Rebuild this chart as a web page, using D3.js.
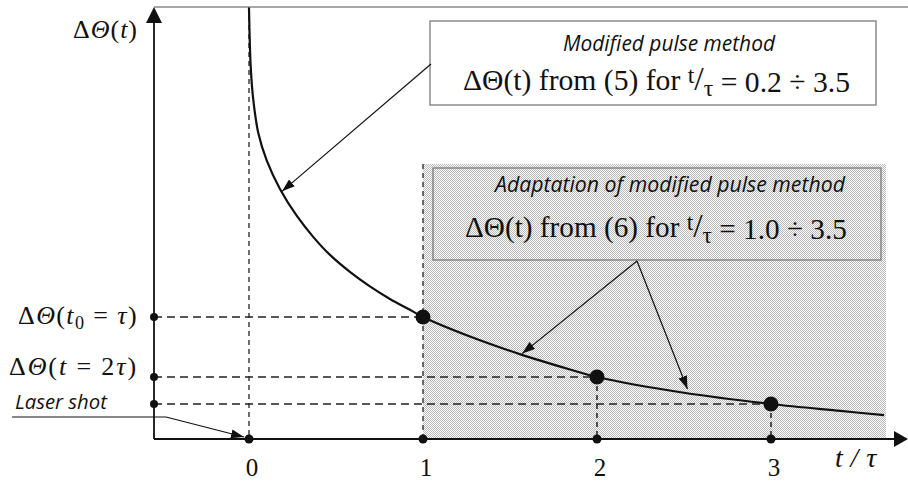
<!DOCTYPE html>
<html>
<head>
<meta charset="utf-8">
<script src="https://cdn.jsdelivr.net/npm/d3@7"></script>
<style>
  html, body { margin: 0; padding: 0; background: #fff; }
  svg { display: block; }
</style>
</head>
<body>
<script>
// ---- data (t/τ and relative ΔΘ, normalised so ΔΘ(τ) = 1) ----
const tValues     = [0, 0.0098, 0.0247, 0.0534, 0.1017, 0.178, 0.274, 0.370, 0.4655, 0.58, 0.695, 0.81, 0.925, 1.0, 1.27, 1.56, 1.845, 2.0, 2.5, 3.0, 3.4, 3.65];
const thetaValues = [3.533, 3.052, 2.779, 2.508, 2.283, 2.049, 1.830, 1.655, 1.509, 1.370, 1.251, 1.148, 1.059, 1.0, 0.840, 0.694, 0.570, 0.508, 0.379, 0.287, 0.230, 0.195];
const markedT     = [1, 2, 3];
const markedTheta = [1.00, 0.508, 0.287];
const xTickValues = [0, 1, 2, 3];
const xTickLabels = ["0", "1", "2", "3"];
const shadeT      = [1.0, 3.66];
const shadeTop    = 2.254;
const xDomain     = [-0.546, 3.776];
const yDomain     = [0, 3.541];

const W = 908, H = 481;
const svg = d3.select("body").append("svg").attr("width", W).attr("height", H);

const x = d3.scaleLinear().domain(xDomain).range([154, 906]);
const y = d3.scaleLinear().domain(yDomain).range([439, 7]);

const defs = svg.append("defs");
const pat = defs.append("pattern").attr("id", "dots")
  .attr("patternUnits", "userSpaceOnUse").attr("width", 2).attr("height", 2);
pat.append("rect").attr("width", 2).attr("height", 2).attr("fill", "#fcfcfc");
pat.append("rect").attr("x", 0).attr("y", 0).attr("width", 1).attr("height", 1).attr("fill", "#bababa");
pat.append("rect").attr("x", 1).attr("y", 1).attr("width", 1).attr("height", 1).attr("fill", "#bababa");

function marker(id, len, wid) {
  defs.append("marker").attr("id", id)
    .attr("markerUnits", "userSpaceOnUse")
    .attr("markerWidth", len).attr("markerHeight", wid)
    .attr("refX", len).attr("refY", wid / 2).attr("orient", "auto")
    .append("path").attr("d", `M0,0 L${len},${wid / 2} L0,${wid} Z`).attr("fill", "#111");
}
marker("arr", 13, 9);

// ---- shaded region ----
svg.append("rect")
  .attr("x", x(shadeT[0])).attr("y", y(shadeTop))
  .attr("width", x(shadeT[1]) - x(shadeT[0]))
  .attr("height", y(0) - y(shadeTop))
  .attr("fill", "url(#dots)").attr("shape-rendering", "crispEdges");

// top border line
svg.append("line").attr("x1", 154).attr("x2", W).attr("y1", 7).attr("y2", 7)
  .attr("stroke", "#8a8a8a").attr("stroke-width", 1.5);

// ---- dashed guide lines ----
const g = svg.append("g").attr("stroke", "#222").attr("fill", "none");
g.append("line").attr("x1", x(0)).attr("x2", x(0)).attr("y1", y(yDomain[1])).attr("y2", y(0))
  .attr("stroke-width", 1.3).attr("stroke-dasharray", "5,4");
g.append("line").attr("x1", x(1)).attr("x2", x(1)).attr("y1", y(shadeTop)).attr("y2", y(0))
  .attr("stroke-width", 1.3).attr("stroke-dasharray", "5,4");
markedT.forEach((t, i) => {
  g.append("line").attr("x1", x(xDomain[0])).attr("x2", x(t))
    .attr("y1", y(markedTheta[i])).attr("y2", y(markedTheta[i]))
    .attr("stroke-width", 1.5).attr("stroke-dasharray", "8,5");
  if (i > 0) {
    g.append("line").attr("x1", x(t)).attr("x2", x(t))
      .attr("y1", y(markedTheta[i])).attr("y2", y(0))
      .attr("stroke-width", 1.5).attr("stroke-dasharray", "5,4");
  }
});

// ---- curve ----
const pts = tValues.map((t, i) => ({ t, v: thetaValues[i] }));
svg.append("path").datum(pts)
  .attr("d", d3.line().x(d => x(d.t)).y(d => y(d.v)).curve(d3.curveCatmullRom.alpha(0.5)))
  .attr("fill", "none").attr("stroke", "#111").attr("stroke-width", 2.2);

// ---- axes ----
const ax = svg.append("g").attr("stroke", "#111").attr("stroke-width", 1.8);
ax.append("line").attr("x1", x(xDomain[0])).attr("x2", x(xDomain[0])).attr("y1", 22).attr("y2", y(0));
ax.append("line").attr("x1", x(xDomain[0])).attr("x2", 895).attr("y1", y(0)).attr("y2", y(0));
svg.append("path").attr("d", `M${x(xDomain[0])},7 L${x(xDomain[0]) + 8},23 L${x(xDomain[0]) - 8},23 Z`).attr("fill", "#111");
svg.append("path").attr("d", `M908,${y(0)} L894,${y(0) - 8} L894,${y(0) + 8} Z`).attr("fill", "#111");

// ---- dots ----
svg.selectAll("circle.xd").data(xTickValues).join("circle").attr("class", "xd")
  .attr("cx", d => x(d)).attr("cy", y(0)).attr("r", 4.5).attr("fill", "#111");
svg.selectAll("circle.yd").data(markedTheta).join("circle").attr("class", "yd")
  .attr("cx", x(xDomain[0])).attr("cy", d => y(d)).attr("r", 4).attr("fill", "#111");
svg.selectAll("circle.big").data(markedT).join("circle").attr("class", "big")
  .attr("cx", d => x(d)).attr("cy", (d, i) => y(markedTheta[i])).attr("r", 7.5).attr("fill", "#111");

// ---- text helpers ----
const tserif = "'Liberation Serif', 'DejaVu Serif', serif";
const sans = "'Open Sans', 'Noto Sans', sans-serif";
function fit(t, target) {
  const fs = parseFloat(t.attr("font-size"));
  const len = t.node().getComputedTextLength();
  if (len > 0) t.attr("font-size", (fs * target / len).toFixed(2));
  return t;
}
function fitSpacing(t, target) {
  const len = t.node().getComputedTextLength();
  const n = t.text().length;
  if (len > 0 && n > 1) t.attr("letter-spacing", ((target - len) / n).toFixed(2));
  return t;
}

// x tick labels
svg.selectAll("text.xt").data(xTickValues).join("text").attr("class", "xt")
  .attr("x", d => x(d) + 3).attr("y", 476).attr("text-anchor", "middle")
  .attr("font-family", tserif).attr("font-size", 25).attr("fill", "#111")
  .text((d, i) => xTickLabels[i]);

// x axis title t/τ
fitSpacing(svg.append("text").attr("x", 835).attr("y", 467)
  .attr("font-family", tserif).attr("font-size", 28).attr("font-style", "italic")
  .attr("fill", "#111").text("t/τ"), 49);

// ---- y labels ----
function mathLabel(xr, yb, parts, target) {
  const t = svg.append("text").attr("x", xr).attr("y", yb).attr("text-anchor", "end")
    .attr("font-family", tserif).attr("font-size", 26).attr("fill", "#111");
  parts.forEach(p => {
    const s = t.append("tspan").text(p.s);
    if (p.i) s.attr("font-style", "italic");
    if (p.sub) s.attr("font-size", "0.7em").attr("dy", "0.25em");
    if (p.up) s.attr("dy", "-0.175em");
  });
  return fitSpacing(t, target);
}
mathLabel(138, 38, [{ s: "Δ" }, { s: "Θ", i: 1 }, { s: "(" }, { s: "t", i: 1 }, { s: ")" }], 65);
mathLabel(138, 324, [{ s: "Δ" }, { s: "Θ", i: 1 }, { s: "(" }, { s: "t", i: 1 }, { s: "0", sub: 1 }, { s: " = ", up: 1 }, { s: "τ", i: 1 }, { s: ")" }], 120);
mathLabel(138, 375, [{ s: "Δ" }, { s: "Θ", i: 1 }, { s: "(" }, { s: "t", i: 1 }, { s: " = " }, { s: "2" }, { s: "τ", i: 1 }, { s: ")" }], 129);

// Laser shot
fit(svg.append("text").attr("x", 15).attr("y", 409).attr("font-family", sans)
  .attr("font-size", 16).attr("font-style", "italic").attr("fill", "#111").text("Laser shot"), 92);
svg.append("line").attr("x1", 12).attr("x2", 166).attr("y1", 417).attr("y2", 417)
  .attr("stroke", "#111").attr("stroke-width", 1.2);
svg.append("line").attr("x1", 166).attr("y1", 417).attr("x2", x(0) - 5).attr("y2", y(0) - 2)
  .attr("stroke", "#111").attr("stroke-width", 1.2).attr("marker-end", "url(#arr)");

// ---- annotation boxes ----
svg.append("rect").attr("x", 430).attr("y", 21).attr("width", 446).attr("height", 84)
  .attr("fill", "#fff").attr("stroke", "#7a7a7a").attr("stroke-width", 1.3);
svg.append("rect").attr("x", 433).attr("y", 168).attr("width", 448).attr("height", 92)
  .attr("fill", "none").attr("stroke", "#7a7a7a").attr("stroke-width", 1.3);

fit(svg.append("text").attr("x", 563).attr("y", 51)
  .attr("font-family", sans).attr("font-size", 18).attr("font-style", "italic").attr("fill", "#111")
  .text("Modified pulse method"), 212);
fit(svg.append("text").attr("x", 495).attr("y", 192)
  .attr("font-family", sans).attr("font-size", 18).attr("font-style", "italic").attr("fill", "#111")
  .text("Adaptation of modified pulse method"), 350);

function rangeText(x0, yb, eq, r, target) {
  const t = svg.append("text").attr("x", x0).attr("y", yb)
    .attr("font-family", tserif).attr("font-size", 24).attr("fill", "#111");
  t.append("tspan").text(`ΔΘ(t) from (${eq}) for `);
  t.append("tspan").attr("dy", "-0.3em").attr("font-size", "0.8em").text("t");
  t.append("tspan").attr("dy", "0.22em").attr("font-size", "1.15em").text("/");
  t.append("tspan").attr("dy", "0.25em").attr("font-size", "0.8em").text("τ");
  t.append("tspan").attr("dy", "-0.15em").text(` = ${r}`);
  return fit(t, target);
}
rangeText(463, 90, "5", "0.2 ÷ 3.5", 387);
rangeText(465, 237, "6", "1.0 ÷ 3.5", 382);

// ---- arrows ----
const arrows = [
  { x1: 431, y1: 64, t: 0.19, v: 2.03 },
  { x1: 637, y1: 261, t: 1.57, v: 0.70 },
  { x1: 637, y1: 261, t: 2.52, v: 0.41 }
];
svg.selectAll("line.arr").data(arrows).join("line").attr("class", "arr")
  .attr("x1", d => d.x1).attr("y1", d => d.y1)
  .attr("x2", d => x(d.t)).attr("y2", d => y(d.v))
  .attr("stroke", "#111").attr("stroke-width", 1.2).attr("marker-end", "url(#arr)");
</script>
</body>
</html>
